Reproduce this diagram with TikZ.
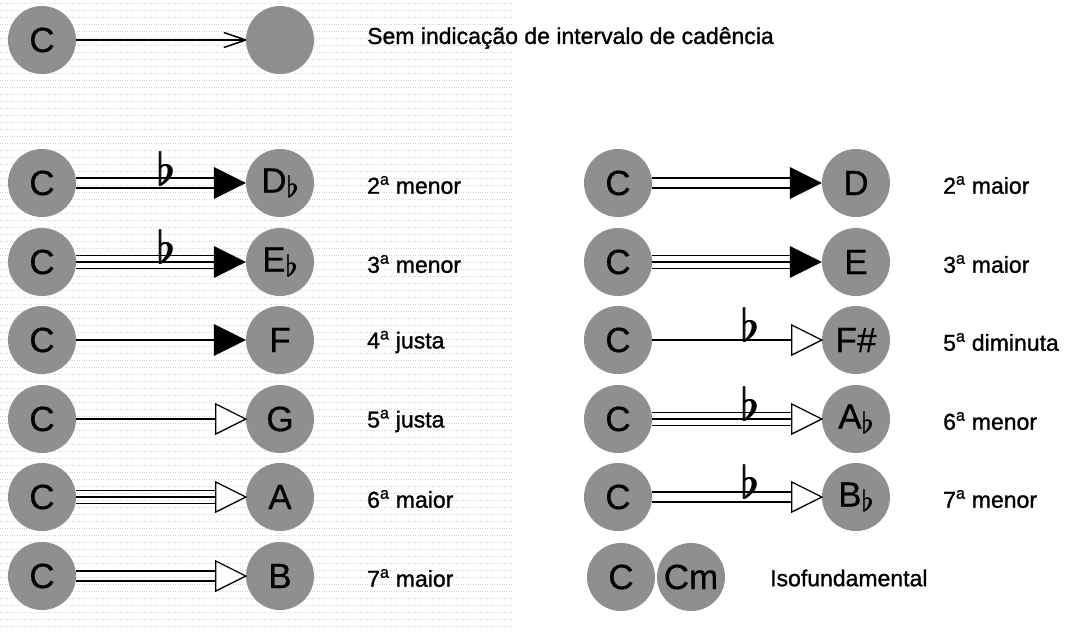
\documentclass[tikz,border=0pt]{standalone}
\usepackage{graphicx}
\usepackage{fontspec}
\setmainfont{Liberation Sans}
\newfontfamily\labfont{Liberation Sans}[FakeBold=1.2]
\newfontfamily\notefont{Liberation Sans}[FakeBold=0.5]
\usetikzlibrary{calc}
\definecolor{nodegray}{RGB}{143,143,143}
\definecolor{dotgray}{RGB}{212,212,212}
\newcommand\thickflat[2]{%
  \rlap{\resizebox{!}{#1}{$\flat$}}\hspace{#2}%
  \rlap{\resizebox{!}{#1}{$\flat$}}\hspace{#2}%
  \resizebox{!}{#1}{$\flat$}}
\newcommand\flatlbl[1]{#1\raisebox{-5pt}{\thickflat{22pt}{0.5pt}}}
\newcommand\bigflat{\thickflat{34pt}{0.7pt}}
\newcommand\singlelines[2]{\draw[conn] (#1.east) -- (#2);}
\newcommand\doublelines[2]{%
  \draw[conn] ([yshift=5pt]#1.east) -- ([yshift=5pt]#2);
  \draw[conn] ([yshift=-5pt]#1.east) -- ([yshift=-5pt]#2);}
\newcommand\triplelines[2]{%
  \draw[conn] ([yshift=6.5pt]#1.east) -- ([yshift=6.5pt]#2);
  \draw[conn] (#1.east) -- (#2);
  \draw[conn] ([yshift=-6.5pt]#1.east) -- ([yshift=-6.5pt]#2);}
\newcommand\fullhead[1]{\fill[black] (#1.west) -- ++(-32,-16) -- ++(0,32) -- cycle;}
\newcommand\openhead[1]{\filldraw[openheadstyle] (#1.west) -- ++(-30,-15) -- ++(0,30) -- cycle;}
\begin{document}
\begin{tikzpicture}[x=1pt,y=-1pt,
  note/.style={circle, fill=nodegray, minimum size=68pt, inner sep=0pt,
    font=\notefont\fontsize{35}{35}\selectfont},
  lab/.style={anchor=west, inner sep=0pt, font=\labfont\fontsize{23}{23}\selectfont},
  conn/.style={line width=1.5pt, black},
  openheadstyle/.style={draw=black, fill=white, line width=1.3pt, line join=miter},
  flatmark/.style={inner sep=0pt}
]
\useasboundingbox (0,0) rectangle (1067,633);
\fill[white] (0,0) rectangle (1067,633);
% scan texture
\foreach \yy in {3,10,...,630}
  \draw[dotgray, line width=0.9pt, dash pattern=on 0.9pt off 1.5pt] (0,\yy) -- (512,\yy);

% ---------- left column ----------
\node[note] (c0) at (42,40) {C};
\node[note] (t0) at (280,40) {};
\node[note] (c1) at (42,183) {C};
\node[note] (t1) at (280,183) {\flatlbl{D}};
\node[note] (c2) at (42,262) {C};
\node[note] (t2) at (280,262) {\flatlbl{E}};
\node[note] (c3) at (42,340) {C};
\node[note] (t3) at (280,340) {F};
\node[note] (c4) at (42,419) {C};
\node[note] (t4) at (280,419) {G};
\node[note] (c5) at (42,497) {C};
\node[note] (t5) at (280,497) {A};
\node[note] (c6) at (42,576) {C};
\node[note] (t6) at (280,576) {B};

\node[lab] (l0) at (367,38) {Sem indicação de intervalo de cadência};
\node[lab] (l1) at (367,185) {2\textsuperscript{a} menor};
\node[lab] (l2) at (367,264) {3\textsuperscript{a} menor};
\node[lab] (l3) at (367,342) {4\textsuperscript{a} justa};
\node[lab] (l4) at (367,421) {5\textsuperscript{a} justa};
\node[lab] (l5) at (367,499) {6\textsuperscript{a} maior};
\node[lab] (l6) at (367,578) {7\textsuperscript{a} maior};

% connectors left
\draw[conn] (c0.east) -- (t0.west);
\draw[conn] (t0.west) -- ++(-22,-7.5) (t0.west) -- ++(-22,7.5);

\coordinate (b1) at ($(t1.west)+(-32,0)$);
\doublelines{c1}{b1}\fullhead{t1}
\node[flatmark] (f1) at (166,168) {\bigflat};

\coordinate (b2) at ($(t2.west)+(-32,0)$);
\triplelines{c2}{b2}\fullhead{t2}
\node[flatmark] (f2) at (166,246) {\bigflat};

\coordinate (b3) at ($(t3.west)+(-32,0)$);
\singlelines{c3}{b3}\fullhead{t3}

\coordinate (b4) at ($(t4.west)+(-30,0)$);
\singlelines{c4}{b4}\openhead{t4}

\coordinate (b5) at ($(t5.west)+(-30,0)$);
\triplelines{c5}{b5}\openhead{t5}

\coordinate (b6) at ($(t6.west)+(-30,0)$);
\doublelines{c6}{b6}\openhead{t6}

% ---------- right column ----------
\node[note] (r1) at (618,183) {C};
\node[note] (s1) at (856,183) {D};
\node[note] (r2) at (618,262) {C};
\node[note] (s2) at (856,262) {E};
\node[note] (r3) at (618,340) {C};
\node[note] (s3) at (856,340) {F\#};
\node[note] (r4) at (618,419) {C};
\node[note] (s4) at (856,419) {\flatlbl{A}};
\node[note] (r5) at (618,497) {C};
\node[note] (s5) at (856,497) {\flatlbl{B}};
\node[note] (r6) at (621,577) {C};
\node[note] (s6) at (691,577) {Cm};

\node[lab] (m1) at (943,185) {2\textsuperscript{a} maior};
\node[lab] (m2) at (943,264) {3\textsuperscript{a} maior};
\node[lab] (m3) at (943,342) {5\textsuperscript{a} diminuta};
\node[lab] (m4) at (943,421) {6\textsuperscript{a} menor};
\node[lab] (m5) at (943,499) {7\textsuperscript{a} menor};
\node[lab] (m6) at (770,578) {Isofundamental};

\coordinate (d1) at ($(s1.west)+(-32,0)$);
\doublelines{r1}{d1}\fullhead{s1}

\coordinate (d2) at ($(s2.west)+(-32,0)$);
\triplelines{r2}{d2}\fullhead{s2}

\coordinate (d3) at ($(s3.west)+(-30,0)$);
\singlelines{r3}{d3}\openhead{s3}
\node[flatmark] (g3) at (750,324) {\bigflat};

\coordinate (d4) at ($(s4.west)+(-30,0)$);
\triplelines{r4}{d4}\openhead{s4}
\node[flatmark] (g4) at (750,403) {\bigflat};

\coordinate (d5) at ($(s5.west)+(-30,0)$);
\doublelines{r5}{d5}\openhead{s5}
\node[flatmark] (g5) at (750,481) {\bigflat};
\end{tikzpicture}
\end{document}
